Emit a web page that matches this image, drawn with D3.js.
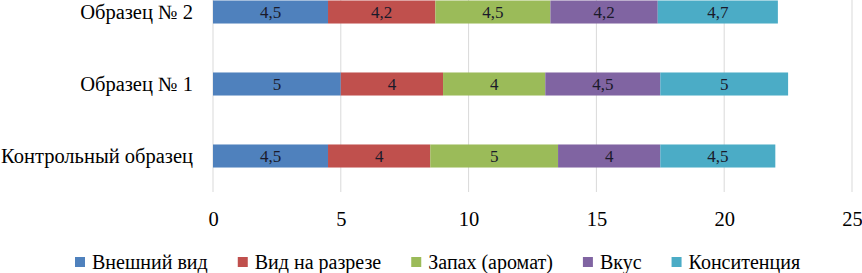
<!DOCTYPE html>
<html lang="ru">
<head>
<meta charset="utf-8">
<script src="https://cdn.jsdelivr.net/npm/d3@7"></script>
</head>
<body style="margin:0">
<script>
// data
const categories = ["Образец № 2", "Образец № 1", "Контрольный образец"];
const seriesNames = ["Внешний вид", "Вид на разрезе", "Запах (аромат)", "Вкус", "Конситенция"];
const vneshniy = [4.5, 5, 4.5];
const razrez = [4.2, 4, 4];
const zapah = [4.5, 4, 5];
const vkus = [4.2, 4.5, 4];
const konsist = [4.7, 5, 4.5];
const xTicks = [0, 5, 10, 15, 20, 25];
const colors = ["#4F81BD", "#C0504D", "#9BBB59", "#8064A2", "#4BACC6"];

const w = 862, h = 273;
const fontName = "Liberation Serif";
const seriesValues = [vneshniy, razrez, zapah, vkus, konsist];

const rows = categories.map((c, i) => {
  const r = { cat: c };
  seriesNames.forEach((s, j) => r[s] = seriesValues[j][i]);
  return r;
});

const svg = d3.select("body").append("svg")
  .attr("width", w).attr("height", h)
  .attr("font-family", fontName);

const x = d3.scaleLinear().domain([0, 25]).range([213, 852]);
const y = d3.scaleBand().domain(categories).range([-24, 192]).paddingInner(0.68).paddingOuter(0.34);

// gridlines
svg.append("g").selectAll("line")
  .data(xTicks).enter().append("line")
  .attr("x1", d => x(d)).attr("x2", d => x(d))
  .attr("y1", -24).attr("y2", 192)
  .attr("stroke", "#d9d9d9").attr("stroke-width", 1);

// x axis labels
const xAxis = svg.append("g")
  .attr("transform", "translate(0,192)")
  .call(d3.axisBottom(x).tickValues(xTicks).tickSize(0).tickPadding(19));
xAxis.attr("font-family", fontName).attr("font-size", 20.5);
xAxis.select(".domain").remove();
xAxis.selectAll("text").attr("font-family", fontName).attr("font-size", 20.5).attr("fill", "#000");

// y axis labels
const yAxis = svg.append("g")
  .attr("transform", "translate(213,0)")
  .call(d3.axisLeft(y).tickSize(0).tickPadding(20));
yAxis.attr("font-family", fontName).attr("font-size", 20.5);
yAxis.select(".domain").remove();
yAxis.selectAll("text").attr("font-family", fontName).attr("font-size", 20.5).attr("fill", "#000");

const stacked = d3.stack().keys(seriesNames)(rows);
const fmt = v => String(v).replace(".", ",");

const layers = svg.append("g").selectAll("g")
  .data(stacked).enter().append("g")
  .attr("fill", (d, i) => colors[i]);

layers.selectAll("rect")
  .data(d => d).enter().append("rect")
  .attr("x", d => x(d[0]))
  .attr("y", d => y(d.data.cat))
  .attr("width", d => x(d[1]) - x(d[0]))
  .attr("height", y.bandwidth());

layers.selectAll("text")
  .data(d => d).enter().append("text")
  .attr("x", d => (x(d[0]) + x(d[1])) / 2)
  .attr("y", d => y(d.data.cat) + y.bandwidth() / 2)
  .attr("dy", "0.35em")
  .attr("text-anchor", "middle")
  .attr("font-family", fontName)
  .attr("font-size", 17)
  .attr("fill", "#1a1a2a")
  .text(d => fmt(+(d[1] - d[0]).toFixed(1)));

// legend
const legend = svg.append("g").attr("transform", "translate(75,262)");
let lx = 0;
seriesNames.forEach((s, i) => {
  const g = legend.append("g").attr("transform", `translate(${lx},0)`);
  g.append("rect").attr("x", 0).attr("y", -5).attr("width", 10).attr("height", 10)
    .attr("fill", colors[i]);
  const t = g.append("text").attr("x", 17).attr("y", 0).attr("dy", "0.35em")
    .attr("font-family", fontName)
    .attr("font-size", 20).attr("fill", "#000").text(s);
  lx += 17 + t.node().getComputedTextLength() + 30;
});
</script>
</body>
</html>
